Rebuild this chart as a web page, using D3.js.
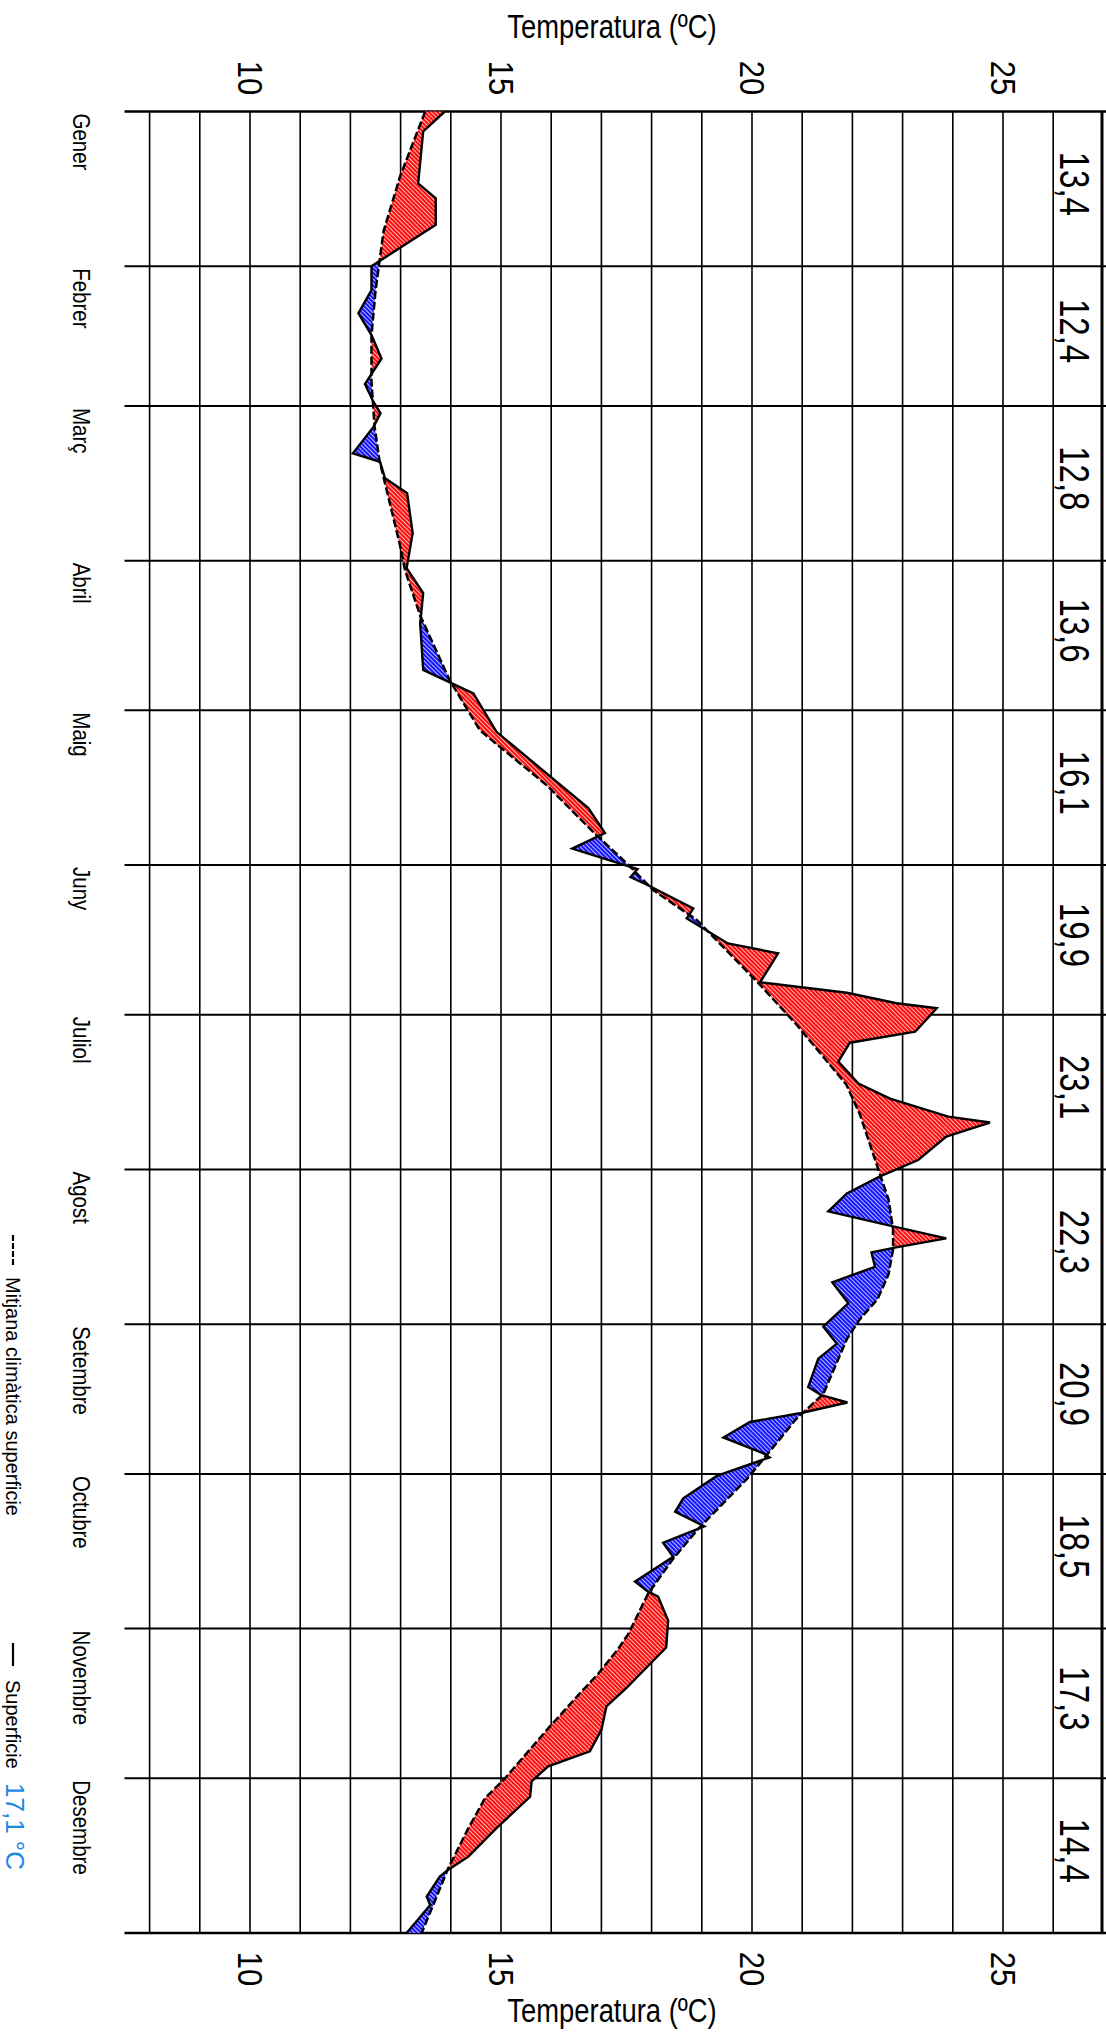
<!DOCTYPE html>
<html>
<head>
<meta charset="utf-8">
<script src="https://cdn.jsdelivr.net/npm/d3@7"></script>
<style>
  body { margin: 0; background: #fff; }
  svg { display: block; }
  text { font-family: "Liberation Sans", Arial, sans-serif; fill: #000; }
</style>
</head>
<body>
<svg id="chart" width="1106" height="2033"></svg>
<script>
// months (day of year where each one starts, last value = end of year)
const months = ["Gener", "Febrer", "Març", "Abril", "Maig", "Juny", "Juliol", "Agost", "Setembre", "Octubre", "Novembre", "Desembre"];
const monthStart = [0, 31, 59, 90, 120, 151, 181, 212, 243, 273, 304, 334, 365];
const monthMean = ["13,4", "12,4", "12,8", "13,6", "16,1", "19,9", "23,1", "22,3", "20,9", "18,5", "17,3", "14,4"];
const tempTicks = [10, 15, 20, 25];
const annualMean = "17,1 °C";

// surface temperature
const surfDay = [0, 4, 14.4, 17.4, 22.7, 31, 35.8, 40.4, 44.8, 49.5, 54.6, 58.2, 60.5, 63.2, 68.5, 70.2, 73.5, 76.5, 84.5, 91.5,
  96.5, 102.6, 111.9, 116.6, 124.3, 139.6, 144.6, 147.7, 151.8, 153.4, 155, 159.7, 161.7, 166.7, 168.7, 174.5, 176.6, 178.7, 179.7,
  184.4, 186.6, 190.4, 194.8, 197.8, 201.4, 202.6, 205.4, 210.1, 213.4, 216.8, 220.4, 223.4, 225.8, 227.6, 228.6, 231.5, 234.6,
  238.8, 243.5, 246.9, 249.9, 255.6, 257.2, 258.7, 260.8, 262.6, 265.7, 268.9, 269.7, 273.4, 277.9, 280.6, 283.5, 286.8, 289.6,
  294.6, 296.6, 297.6, 302.4, 307.8, 315.9, 319.6, 324.3, 328.6, 331.6, 334.6, 337.7, 344, 349.7, 352.3, 353.7, 357.7, 359.4, 365];
const surfTemp = [13.88, 13.45, 13.35, 13.70, 13.70, 12.42, 12.42, 12.16, 12.42, 12.62, 12.29, 12.46, 12.60, 12.46, 12.05, 12.59, 12.69, 13.13, 13.24, 13.12,
  13.45, 13.39, 13.45, 14.45, 14.91, 16.74, 17.07, 16.42, 17.72, 17.58, 17.92, 18.83, 18.70, 19.52, 20.52, 20.16, 21.89, 22.88, 23.68,
  23.25, 21.95, 21.72, 22.12, 22.75, 23.91, 24.74, 23.87, 23.31, 22.55, 21.89, 21.52, 22.81, 23.87, 22.87, 22.38, 22.45, 21.60,
  21.92, 21.42, 21.69, 21.32, 21.12, 21.38, 21.90, 20.98, 19.96, 19.43, 20.23, 20.35, 19.30, 18.63, 18.47, 19.05, 18.23, 18.43,
  17.67, 17.93, 18.13, 18.33, 18.29, 17.50, 17.10, 17.00, 16.77, 15.94, 15.61, 15.58, 14.91, 14.35, 13.95, 13.78, 13.52, 13.59, 13.12];

// climatic mean of the surface
const climDay = [0, 13, 24, 30, 36, 45, 54, 63, 70, 77, 87, 92, 101, 114, 124, 127, 135, 145, 151, 156, 162, 175, 183, 195, 201,
  213, 218, 224, 228, 233, 238, 242, 246, 257, 262, 270, 274, 284, 290, 297, 305, 308, 313, 317, 324, 334, 338, 344, 352, 365];
const climTemp = [13.49, 12.99, 12.66, 12.58, 12.50, 12.42, 12.42, 12.48, 12.58, 12.75, 12.99, 13.09, 13.39, 13.98, 14.58, 14.94, 15.91, 16.90, 17.54, 18.03, 18.90, 20.16, 20.89, 21.88, 22.15,
  22.55, 22.72, 22.81, 22.81, 22.72, 22.50, 22.15, 21.89, 21.42, 20.88, 20.23, 19.90, 18.93, 18.43, 17.93, 17.54, 17.34, 16.94, 16.57, 15.94, 15.08, 14.68, 14.35, 13.95, 13.42];

const svg = d3.select("#chart");

const x = d3.scaleLinear().domain([7.5, 27]).range([124.5, 1103.4]);
const y = d3.scaleLinear().domain([0, 365]).range([111.5, 1933]);

// hatched fills
const defs = svg.append("defs");
function hatch(id, color) {
  const p = defs.append("pattern")
    .attr("id", id)
    .attr("patternUnits", "userSpaceOnUse")
    .attr("width", 3).attr("height", 3)
    .attr("patternTransform", "rotate(-45)");
  p.append("rect").attr("width", 3).attr("height", 3).attr("fill", color);
  p.append("line").attr("x1", 0.5).attr("y1", 0).attr("x2", 0.5).attr("y2", 3)
    .attr("stroke", "#fff").attr("stroke-width", 0.7);
}
hatch("hatchRed", "#ff0d0d");
hatch("hatchBlue", "#1515ff");

// grid
const grid = svg.append("g");
grid.selectAll(".v")
  .data(d3.range(8, 27))
  .join("line")
  .attr("x1", d => x(d)).attr("x2", d => x(d))
  .attr("y1", y(0)).attr("y2", y(365))
  .attr("stroke", "#000").attr("stroke-width", 1.6);
grid.selectAll(".h")
  .data(monthStart)
  .join("line")
  .attr("x1", x(7.5)).attr("x2", 1106)
  .attr("y1", d => y(d)).attr("y2", d => y(d))
  .attr("stroke", "#000").attr("stroke-width", (d, i) => (i === 0 || i === 12) ? 2.5 : 2);
grid.append("line")
  .attr("x1", 1102).attr("x2", 1102)
  .attr("y1", y(0)).attr("y2", y(365))
  .attr("stroke", "#000").attr("stroke-width", 3);

// merge both series on the same days, adding the crossing points
const surfAt = d3.scaleLinear().domain(surfDay).range(surfTemp);
const climAt = d3.scaleLinear().domain(climDay).range(climTemp);
const days = Array.from(new Set(surfDay.concat(climDay))).sort((a, b) => a - b);
const pts = [];
days.forEach((d, i) => {
  const s = surfAt(d), m = climAt(d);
  pts.push({ d, s, m });
  if (i < days.length - 1) {
    const d2 = days[i + 1];
    const diff1 = s - m, diff2 = surfAt(d2) - climAt(d2);
    if (diff1 * diff2 < 0) {
      const t = diff1 / (diff1 - diff2);
      const dc = d + t * (d2 - d);
      const v = climAt(dc);
      pts.push({ d: dc, s: v, m: v });
    }
  }
});

const warm = d3.area()
  .y(d => y(d.d))
  .x0(d => x(d.m))
  .x1(d => x(Math.max(d.s, d.m)));
const cold = d3.area()
  .y(d => y(d.d))
  .x0(d => x(d.m))
  .x1(d => x(Math.min(d.s, d.m)));

svg.append("path").datum(pts).attr("d", warm).attr("fill", "url(#hatchRed)");
svg.append("path").datum(pts).attr("d", cold).attr("fill", "url(#hatchBlue)");

const tempLine = d3.line().x(d => x(d[1])).y(d => y(d[0]));
svg.append("path")
  .datum(climDay.map((d, i) => [d, climTemp[i]]))
  .attr("d", tempLine)
  .attr("fill", "none").attr("stroke", "#000")
  .attr("stroke-width", 2.5).attr("stroke-dasharray", "8,3");
svg.append("path")
  .datum(surfDay.map((d, i) => [d, surfTemp[i]]))
  .attr("d", tempLine)
  .attr("fill", "none").attr("stroke", "#000")
  .attr("stroke-width", 2.4).attr("stroke-linejoin", "miter");

// temperature ticks, top and bottom
[78, 1969].forEach(ty => {
  svg.append("g").selectAll("text")
    .data(tempTicks)
    .join("text")
    .attr("transform", d => `translate(${x(d)},${ty}) rotate(90) scale(1,1.12)`)
    .attr("text-anchor", "middle")
    .attr("dominant-baseline", "central")
    .attr("font-size", 31)
    .text(d => d);
});

[38, 2022].forEach(ty => {
  svg.append("text")
    .attr("transform", `translate(612,${ty}) scale(0.83,1)`)
    .attr("text-anchor", "middle").attr("font-size", 33)
    .text("Temperatura (ºC)");
});

// month names on the left
svg.append("g").selectAll("text")
  .data(months)
  .join("text")
  .attr("transform", (d, i) => `translate(73,${y(monthStart[i]) + 2}) rotate(90) scale(1,1.2)`)
  .attr("font-size", 20.5)
  .text(d => d);

// monthly means on the right
svg.append("g").selectAll("text")
  .data(monthMean)
  .join("text")
  .attr("transform", (d, i) => `translate(1075,${y((monthStart[i] + monthStart[i + 1]) / 2) - 5}) rotate(90) scale(1,1.3)`)
  .attr("text-anchor", "middle")
  .attr("dominant-baseline", "central")
  .attr("font-size", 33)
  .text(d => d);

// legend
const lg = svg.append("g");
lg.append("line").attr("x1", 13).attr("x2", 13).attr("y1", 1235).attr("y2", 1265)
  .attr("stroke", "#000").attr("stroke-width", 2.2).attr("stroke-dasharray", "6,2");
lg.append("text").attr("transform", "translate(6,1277) rotate(90)")
  .attr("font-size", 20).text("Mitjana climàtica superficie");
lg.append("line").attr("x1", 13).attr("x2", 13).attr("y1", 1643).attr("y2", 1666)
  .attr("stroke", "#000").attr("stroke-width", 2.2);
lg.append("text").attr("transform", "translate(6,1680) rotate(90)")
  .attr("font-size", 20).text("Superficie");
lg.append("text").attr("transform", "translate(6,1783) rotate(90)")
  .attr("font-size", 26).style("fill", "#1e88e5").text(annualMean);
</script>
</body>
</html>
